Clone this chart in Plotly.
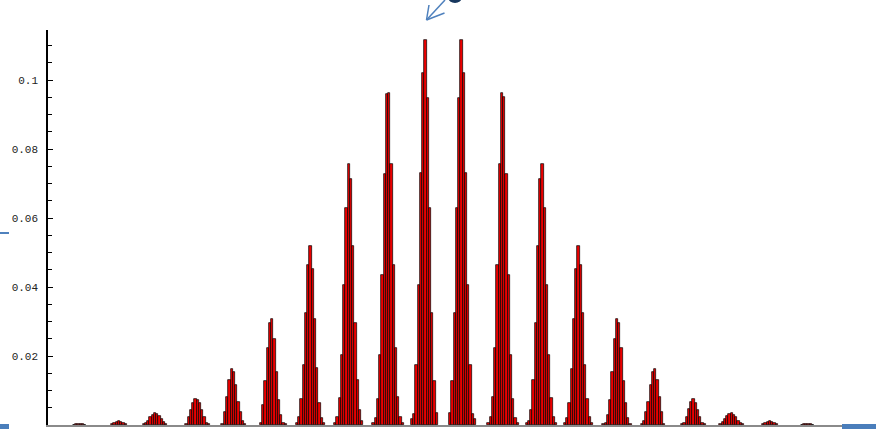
import plotly.graph_objects as go

# ---- data: histogram bar heights per cluster ----
c01 = [0.0001, 0.0002, 0.0003, 0.0003, 0.0002, 0.0001]
c02 = [0.0002, 0.0005, 0.0009, 0.0011, 0.0010, 0.0007, 0.0003]
c03 = [0.0002, 0.0006, 0.0013, 0.0022, 0.0030, 0.0034, 0.0033, 0.0026, 0.0016, 0.0008, 0.0003]
c04 = [0.0003, 0.0022, 0.0043, 0.0063, 0.0074, 0.0073, 0.0063, 0.0044, 0.0022, 0.0007, 0.0002]
c05 = [0.0003, 0.0038, 0.0080, 0.0130, 0.0161, 0.0155, 0.0116, 0.0068, 0.0039, 0.0013, 0.0003]
c06 = [0.0005, 0.0058, 0.0128, 0.0222, 0.0297, 0.0306, 0.0248, 0.0155, 0.0072, 0.0029, 0.0007, 0.0002]
c07 = [0.0005, 0.0022, 0.0074, 0.0174, 0.0324, 0.0464, 0.0519, 0.0451, 0.0306, 0.0164, 0.0063, 0.0019, 0.0005]
c08 = [0.0006, 0.0023, 0.0078, 0.0203, 0.0406, 0.0629, 0.0757, 0.0713, 0.0519, 0.0296, 0.0130, 0.0043, 0.0012]
c09 = [0.0006, 0.0020, 0.0075, 0.0203, 0.0435, 0.0727, 0.0960, 0.0961, 0.0757, 0.0464, 0.0223, 0.0081, 0.0023, 0.0006]
c10 = [0.0017, 0.0032, 0.0174, 0.0406, 0.0730, 0.1020, 0.1116, 0.0948, 0.0629, 0.0325, 0.0128, 0.0035]
c11 = [0.0035, 0.0128, 0.0325, 0.0629, 0.0948, 0.1116, 0.1020, 0.0730, 0.0406, 0.0174, 0.0032, 0.0017]
c12 = [0.0006, 0.0023, 0.0081, 0.0223, 0.0464, 0.0757, 0.0961, 0.0950, 0.0727, 0.0435, 0.0203, 0.0075, 0.0020, 0.0006]
c13 = [0.0006, 0.0012, 0.0043, 0.0130, 0.0296, 0.0519, 0.0713, 0.0757, 0.0629, 0.0406, 0.0203, 0.0078, 0.0023, 0.0006]
c14 = [0.0005, 0.0019, 0.0065, 0.0161, 0.0306, 0.0451, 0.0519, 0.0464, 0.0324, 0.0174, 0.0074, 0.0022, 0.0005]
c15 = [0.0002, 0.0007, 0.0029, 0.0072, 0.0155, 0.0248, 0.0306, 0.0297, 0.0222, 0.0128, 0.0063, 0.0019, 0.0003]
c16 = [0.0003, 0.0013, 0.0039, 0.0068, 0.0116, 0.0155, 0.0161, 0.0130, 0.0080, 0.0038, 0.0003]
c17 = [0.0003, 0.0007, 0.0022, 0.0045, 0.0068, 0.0074, 0.0065, 0.0043, 0.0022, 0.0007, 0.0002]
c18 = [0.0003, 0.0008, 0.0016, 0.0026, 0.0033, 0.0034, 0.0030, 0.0022, 0.0013, 0.0006, 0.0002]
c19 = [0.0003, 0.0007, 0.0010, 0.0011, 0.0009, 0.0005, 0.0002]
c20 = [0.0001, 0.0002, 0.0003, 0.0003, 0.0002, 0.0001]

clusters = [c01, c02, c03, c04, c05, c06, c07, c08, c09, c10,
            c11, c12, c13, c14, c15, c16, c17, c18, c19, c20]
# histogram bin index where each cluster begins
first_bins = [11, 28, 42, 61, 77, 94, 110, 127, 144, 161,
              178, 195, 212, 229, 246, 263, 281, 298, 317, 334]
n_bins = 367.5

y_tick_vals = [0.02, 0.04, 0.06, 0.08, 0.1]
y_tick_text = ["0.02", "0.04", "0.06", "0.08", "0.1"]

xs, ys = [], []
for start, heights in zip(first_bins, clusters):
    for j, h in enumerate(heights):
        xs.append(start + j + 0.5)
        ys.append(h)

fig = go.Figure(go.Bar(
    x=xs, y=ys, width=1,
    marker=dict(color="rgb(235,0,0)", line=dict(color="black", width=0.7)),
    hoverinfo="x+y",
))

W, H = 876, 429
L, R, T, B = 48, 0, 30, 4
PW, PH = W - L - R, H - T - B


def px(x):
    return (x - L) / PW


def py(y):
    return (H - B - y) / PH


blue = "#4f81bd"
shapes = [
    dict(type="line", xref="paper", yref="paper", x0=px(0), x1=px(9), y0=py(233), y1=py(233),
         line=dict(color=blue, width=2)),
    dict(type="rect", xref="paper", yref="paper", x0=px(0), x1=px(9), y0=py(429), y1=py(424),
         fillcolor="#4a7ebb", line=dict(width=0)),
    dict(type="rect", xref="paper", yref="paper", x0=px(842), x1=px(876), y0=py(429), y1=py(424),
         fillcolor="#4a7ebb", line=dict(width=0)),
    dict(type="line", xref="paper", yref="paper", x0=px(445), x1=px(426.5), y0=py(0), y1=py(20),
         line=dict(color=blue, width=1.5)),
    dict(type="line", xref="paper", yref="paper", x0=px(426.5), x1=px(429), y0=py(20), y1=py(5),
         line=dict(color=blue, width=1.5)),
    dict(type="line", xref="paper", yref="paper", x0=px(426.5), x1=px(444.5), y0=py(20), y1=py(13),
         line=dict(color=blue, width=1.5)),
    dict(type="circle", xref="paper", yref="paper", x0=px(448), x1=px(462), y0=py(3), y1=py(-9),
         fillcolor="#17375e", line=dict(width=0)),
]

fig.update_layout(
    width=W, height=H,
    margin=dict(l=L, r=R, t=T, b=B),
    paper_bgcolor="white", plot_bgcolor="white",
    showlegend=False,
    bargap=0,
    shapes=shapes,
    xaxis=dict(range=[0, n_bins], showticklabels=False, ticks="", showgrid=False,
               zeroline=False, showline=True, linecolor="#8a8a8a", linewidth=1.5),
    yaxis=dict(range=[0, 0.1145], tickmode="array", tickvals=y_tick_vals, ticktext=y_tick_text,
               ticks="inside", ticklen=5, tickwidth=1, tickcolor="black",
               showline=True, linecolor="black", linewidth=1.5,
               showgrid=False, zeroline=False,
               ticklabelstandoff=6,
               tickfont=dict(family="Liberation Mono", size=11, color="#222222"),
               minor=dict(tickmode="linear", tick0=0, dtick=0.005, ticks="inside",
                          ticklen=4, tickcolor="black", tickwidth=1, showgrid=False)),
)

fig.write_html("out.html")
